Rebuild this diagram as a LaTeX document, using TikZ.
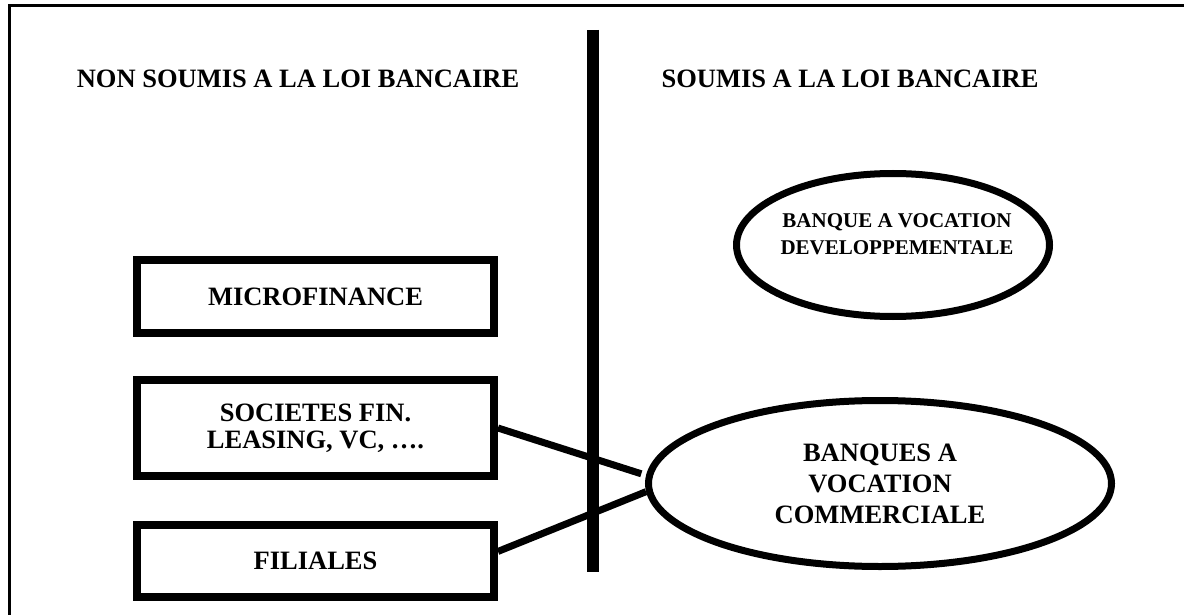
\documentclass[tikz,border=0pt]{standalone}
\usepackage{fontspec}
\setmainfont{Liberation Serif}
\usepackage{tikz}
\usetikzlibrary{shapes.geometric}

\begin{document}
\begin{tikzpicture}[x=1pt, y=-1pt,
                      titre/.style={anchor=base, font=\fontsize{26.5}{31}\selectfont\bfseries},
                      boite/.style={draw, line width=8pt, minimum width=357pt, align=center, font=\fontsize{26.5}{27}\selectfont\bfseries},
                      bulle/.style={draw, ellipse, line width=7pt, inner sep=0pt, align=center},
                      lien/.style={line width=7pt}]
                      \useasboundingbox (0, 0) rectangle (1184, 615);
                      \draw[line width=3pt] (9, 640) -- (9, 5.5) -- (1250, 5.5);

                      \node[titre] (nonsoumis) at (298, 88) {NON SOUMIS A LA LOI BANCAIRE};
                      \node[titre] (soumis) at (850, 88) {SOUMIS A LA LOI BANCAIRE};

                      \draw[line width=12pt] (593, 30) -- (593, 572);

                      \node[boite, minimum height=73pt] (micro) at (315.5, 296.5) {MICROFINANCE};
                      \node[boite, minimum height=96pt] (soc) at (315.5, 428) {SOCIETES FIN.\\LEASING, VC, ….};
                      \node[boite, minimum height=72pt] (fil) at (315.5, 561) {FILIALES};

                      \node[bulle, minimum width=313pt, minimum height=143pt] (dev) at (893, 245) {};
                      \node[align=center, font=\fontsize{21}{27}\selectfont\bfseries] (devtxt) at (897, 234) {BANQUE A VOCATION\\DEVELOPPEMENTALE};

                      \node[bulle, minimum width=463pt, minimum height=166pt, font=\fontsize{26.5}{31}\selectfont\bfseries] (com) at (880, 483.5) {BANQUES A\\VOCATION\\COMMERCIALE};

                      \draw[lien, shorten >=5pt] (soc.east) -- (com.178);
                      \draw[lien] (fil.3) -- (com.182);
                  \end{tikzpicture}
\end{document}
